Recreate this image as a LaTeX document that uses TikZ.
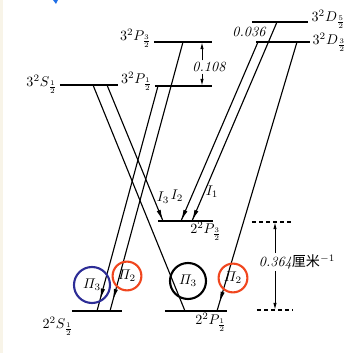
\documentclass[tikz,border=0pt]{standalone}
\usepackage{amsmath}
\usepackage{fontspec}
\newfontfamily\cjk{Noto Sans CJK SC}
\usetikzlibrary{arrows.meta,calc,decorations.markings}
\definecolor{ringblue}{RGB}{45,45,150}
\definecolor{ringred}{RGB}{240,70,30}
\definecolor{paper}{RGB}{248,244,232}
\definecolor{markblue}{RGB}{30,110,230}

\begin{document}
\begin{tikzpicture}[
  x=0.025cm, y=-0.025cm,
  font=\normalsize,
  lvl/.style={line width=1pt},
  trans/.style={line width=0.8pt},
  arrowat/.style={decoration={markings, mark=at position #1 with {\arrow{Latex[length=8pt,width=3pt]}}}, postaction={decorate}},
  dimarrow/.style={line width=0.7pt, -{Latex[length=5pt,width=2.4pt]}},
  extline/.style={line width=0.8pt, dash pattern=on 3pt off 2pt},
  ring/.style={circle, draw=#1, line width=1.5pt, inner sep=0pt},
  lbl/.style={inner sep=1pt},
]
\useasboundingbox (0,0) rectangle (364,353);
\fill[paper] (0,0) rectangle (3,353);
\fill[markblue] (53,0) -- (58,0) -- (56,4) -- cycle;

%% ---- Levels ----
\coordinate (s3l) at (60,85);   \coordinate (s3r) at (118,85);
\coordinate (p31l) at (155,86); \coordinate (p31r) at (212,86);
\coordinate (p33l) at (154,42); \coordinate (p33r) at (212,42);
\coordinate (d35l) at (252,22); \coordinate (d35r) at (308,22);
\coordinate (d33l) at (256,42); \coordinate (d33r) at (310,42);
\coordinate (p23l) at (158,221); \coordinate (p23r) at (213,221);
\coordinate (p21l) at (165,311); \coordinate (p21r) at (227,311);
\coordinate (s2l) at (72,311);  \coordinate (s2r) at (122,311);

\foreach \a in {s3,p31,p33,d35,d33,p23,p21,s2}
  \draw[lvl] (\a l) -- (\a r);

\node[lbl, anchor=east] (ls3)  at (59,84)   {$3^2S_{\frac{1}{2}}$};
\node[lbl, anchor=east] (lp31) at (154,81)  {$3^2P_{\frac{1}{2}}$};
\node[lbl, anchor=east] (lp33) at (153,38)  {$3^2P_{\frac{3}{2}}$};
\node[lbl, anchor=west] (ld35) at (310,19)  {$3^2D_{\frac{5}{2}}$};
\node[lbl, anchor=west] (ld33) at (311,42)  {$3^2D_{\frac{3}{2}}$};
\node[lbl] (lp23) at (206,231) {$2^2P_{\frac{3}{2}}$};
\node[lbl] (lp21) at (211,322) {$2^2P_{\frac{1}{2}}$};
\node[lbl] (ls2)  at (58,326)  {$2^2S_{\frac{1}{2}}$};

%% ---- Transitions ----
\coordinate (a1) at (93,85);  \coordinate (b1) at (185,311);
\coordinate (a2) at (107,85); \coordinate (b2) at (163,221);
\coordinate (a3) at (158,86); \coordinate (b3) at (97,311);
\coordinate (a4) at (183,42); \coordinate (b4) at (110,311);
\coordinate (a5) at (258,42); \coordinate (b5) at (181,221);
\coordinate (a6) at (277,22); \coordinate (b6) at (192,221);
\coordinate (a7) at (297,42); \coordinate (b7) at (217,311);

\draw[trans] (a1) -- (b1);
\draw[trans, arrowat=1] (a2) -- (b2);
\draw[trans, arrowat=0.95] (a3) -- (b3);
\draw[trans, arrowat=0.96] (a4) -- (b4);
\draw[trans, arrowat=1] (a5) -- (b5);
\draw[trans, arrowat=1] (a6) -- (b6);
\draw[trans, arrowat=0.97] (a7) -- (b7);

\node[lbl] (i3) at (163,198) {$I_3$};
\node[lbl] (i2) at (177,196) {$I_2$};
\node[lbl] (i1) at (212,192) {$I_1$};

%% ---- Circled lines ----
\node[ring=ringblue, minimum size=0.9cm]  (c1) at (92,285)  {$\varPi_3$};
\node[ring=ringred,  minimum size=0.72cm] (c2) at (127,276) {$\varPi_2$};
\node[ring=black,    minimum size=0.9cm]  (c3) at (188,281) {$\varPi_3$};
\node[ring=ringred,  minimum size=0.72cm] (c4) at (233,278) {$\varPi_2$};

%% ---- Splittings ----
\coordinate (q1) at (202,42); \coordinate (q2) at (202,86);
\node[lbl, font=\itshape] (v108) at (209,67) {0.108};
\draw[dimarrow] (v108.north -| q1) -- (q1);
\draw[dimarrow] (v108.south -| q2) -- (q2);

\node[lbl, font=\itshape] (v036) at (249,32) {0.036};

\coordinate (e1l) at (252,222); \coordinate (e1r) at (292,222);
\coordinate (e2l) at (257,310); \coordinate (e2r) at (293,310);
\draw[extline] (e1l) -- (e1r);
\draw[extline] (e2l) -- (e2r);
\coordinate (q3) at (275,222); \coordinate (q4) at (275,310);
\node[lbl, fill=white] (v364) at (297,262) {\textit{0.364}{\cjk 厘米}$^{-1}$};
\draw[dimarrow] (v364.north -| q3) -- (q3);
\draw[dimarrow] (v364.south -| q4) -- (q4);

\end{tikzpicture}
\end{document}
